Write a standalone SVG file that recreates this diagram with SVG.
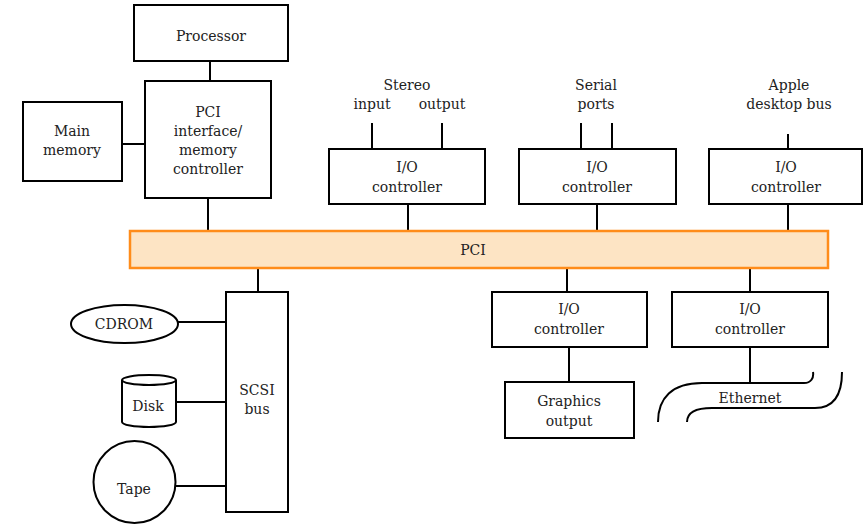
<svg xmlns="http://www.w3.org/2000/svg" width="868" height="526" viewBox="0 0 868 526">
  <style>
    .box { fill: #ffffff; stroke: #000000; stroke-width: 2; }
    .ln { fill: none; stroke: #000000; stroke-width: 2; }
    .bus { fill: #fde4c4; stroke: #ff8c1a; stroke-width: 2.5; }
    text { font-family: "DejaVu Serif", "Liberation Serif", serif; font-size: 14px; fill: #222222; text-anchor: middle; }
  </style>
  <rect width="868" height="526" fill="#ffffff"/>

  <!-- connectors -->
  <g id="connectors">
    <line class="ln" x1="210" y1="61" x2="210" y2="81"/>
    <line class="ln" x1="122" y1="144" x2="145" y2="144"/>
    <line class="ln" x1="208" y1="198" x2="208" y2="231"/>
    <line class="ln" x1="408" y1="204" x2="408" y2="231"/>
    <line class="ln" x1="597" y1="204" x2="597" y2="231"/>
    <line class="ln" x1="788" y1="204" x2="788" y2="231"/>
    <line class="ln" x1="372" y1="123" x2="372" y2="149"/>
    <line class="ln" x1="442" y1="123" x2="442" y2="149"/>
    <line class="ln" x1="581" y1="123" x2="581" y2="149"/>
    <line class="ln" x1="612" y1="123" x2="612" y2="149"/>
    <line class="ln" x1="788" y1="134" x2="788" y2="149"/>
    <line class="ln" x1="258" y1="268" x2="258" y2="292"/>
    <line class="ln" x1="567" y1="268" x2="567" y2="292"/>
    <line class="ln" x1="750" y1="268" x2="750" y2="292"/>
    <line class="ln" x1="178" y1="322" x2="226" y2="322"/>
    <line class="ln" x1="176" y1="402" x2="226" y2="402"/>
    <line class="ln" x1="176" y1="486" x2="226" y2="486"/>
    <line class="ln" x1="569" y1="347" x2="569" y2="382"/>
    <line class="ln" x1="750" y1="347" x2="750" y2="383"/>
  </g>

  <g id="processor">
    <rect class="box" x="134" y="5" width="154" height="56"/>
    <text x="211" y="41">Processor</text>
  </g>

  <g id="pci-interface">
    <rect class="box" x="145" y="81" width="126" height="117"/>
    <text x="208" y="117">PCI</text>
    <text x="208" y="136">interface/</text>
    <text x="208" y="155">memory</text>
    <text x="208" y="174">controller</text>
  </g>

  <g id="main-memory">
    <rect class="box" x="23" y="102" width="99" height="79"/>
    <text x="72" y="136">Main</text>
    <text x="72" y="155">memory</text>
  </g>

  <g id="stereo-labels">
    <text x="407" y="90">Stereo</text>
    <text x="372" y="109">input</text>
    <text x="442" y="109">output</text>
  </g>
  <g id="io-stereo">
    <rect class="box" x="329" y="149" width="156" height="55"/>
    <text x="407" y="172">I/O</text>
    <text x="407" y="192">controller</text>
  </g>

  <g id="serial-labels">
    <text x="596" y="90">Serial</text>
    <text x="596" y="109">ports</text>
  </g>
  <g id="io-serial">
    <rect class="box" x="519" y="149" width="157" height="55"/>
    <text x="597" y="172">I/O</text>
    <text x="597" y="192">controller</text>
  </g>

  <g id="adb-labels">
    <text x="789" y="90">Apple</text>
    <text x="789" y="109">desktop bus</text>
  </g>
  <g id="io-adb">
    <rect class="box" x="709" y="149" width="153" height="55"/>
    <text x="786" y="172">I/O</text>
    <text x="786" y="192">controller</text>
  </g>

  <g id="pci-bus">
    <rect class="bus" x="130" y="231" width="698" height="37"/>
    <text x="473" y="255">PCI</text>
  </g>

  <g id="scsi-bus">
    <rect class="box" x="226" y="292" width="62" height="220"/>
    <text x="257" y="395">SCSI</text>
    <text x="257" y="414">bus</text>
  </g>

  <g id="cdrom">
    <ellipse class="box" cx="124.5" cy="324" rx="53.5" ry="19"/>
    <text x="124" y="329">CDROM</text>
  </g>

  <g id="disk">
    <path class="box" d="M122 380 A27 5 0 0 1 176 380 L176 422 A27 5 0 0 1 122 422 Z"/>
    <path class="ln" d="M122 380 A27 5 0 0 0 176 380"/>
    <text x="148" y="411">Disk</text>
  </g>

  <g id="tape">
    <circle class="box" cx="134.5" cy="482" r="41"/>
    <text x="134" y="494">Tape</text>
  </g>

  <g id="io-graphics">
    <rect class="box" x="492" y="292" width="155" height="55"/>
    <text x="569" y="314">I/O</text>
    <text x="569" y="334">controller</text>
  </g>

  <g id="graphics-output">
    <rect class="box" x="505" y="382" width="129" height="56"/>
    <text x="569" y="406">Graphics</text>
    <text x="569" y="426">output</text>
  </g>

  <g id="io-ethernet">
    <rect class="box" x="672" y="292" width="156" height="55"/>
    <text x="750" y="314">I/O</text>
    <text x="750" y="334">controller</text>
  </g>

  <g id="ethernet">
    <path class="ln" d="M658 422 C658 398 672 383 702 383 L804 383 C811 383 814 378 813 372"/>
    <path class="ln" d="M687 422 C687 413 694 408 712 408 L815 408 C834 408 842 394 842 372"/>
    <text x="750" y="403">Ethernet</text>
  </g>
</svg>
